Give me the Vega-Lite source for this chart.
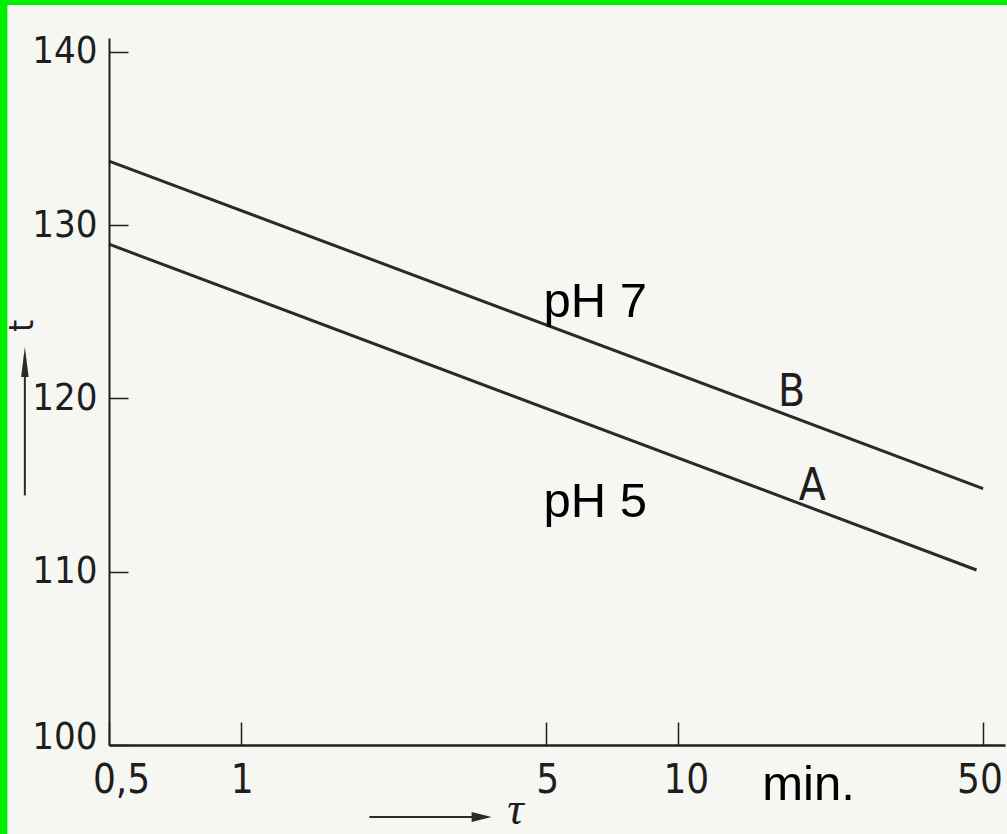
{
  "$schema": "https://vega.github.io/schema/vega-lite/v6.json",
  "width": 896,
  "height": 707,
  "autosize": {"type": "none"},
  "padding": {"left": 109, "top": 38, "right": 2, "bottom": 89},
  "background": "#00f000",
  "config": {"view": {"stroke": null}},
  "datasets": {
    "paper": [{"tau": 0.2928, "tau2": 80, "t": 142.7, "t2": 90}],
    "lines": [
      {"curve": "A", "tau": 0.5, "t": 128.9},
      {"curve": "A", "tau": 48.2, "t": 110.1},
      {"curve": "B", "tau": 0.5, "t": 133.7},
      {"curve": "B", "tau": 49.9, "t": 114.8}
    ],
    "bigLabels": [
      {"text": "pH 7", "tau": 4.93, "t": 124.7},
      {"text": "pH 5", "tau": 4.93, "t": 113.18},
      {"text": "min.", "tau": 15.6, "t": 96.83}
    ],
    "curveLabels": [
      {"text": "B", "tau": 18.2, "t": 119.57},
      {"text": "A", "tau": 20.3, "t": 114.14}
    ],
    "yTitle": [{"text": "t", "tau": 0.318, "t": 124.2}],
    "xTitle": [{"text": "τ", "tau": 4.25, "t": 96.25}],
    "arrowShafts": [
      {"tau": 0.321, "tau2": 0.321, "t": 114.4, "t2": 122.5},
      {"tau": 1.97, "tau2": 3.6, "t": 95.84, "t2": 95.84}
    ],
    "upHead": [{"tau": 0.321, "t": 122.97}],
    "rightHead": [{"tau": 3.75, "t": 95.84}]
  },
  "layer": [
    {
      "data": {"name": "paper"},
      "mark": {"type": "rect", "clip": false, "color": "#f6f7f3"},
      "encoding": {
        "x": {"field": "tau", "type": "quantitative", "scale": {"type": "log", "domain": [0.5, 56]}},
        "x2": {"field": "tau2"},
        "y": {"field": "t", "type": "quantitative", "scale": {"domain": [100, 140.8], "zero": false, "nice": false}},
        "y2": {"field": "t2"}
      }
    },
    {
      "data": {"name": "lines"},
      "mark": {"type": "line", "color": "#2a2a2a", "strokeWidth": 3},
      "encoding": {
        "x": {
          "field": "tau", "type": "quantitative",
          "scale": {"type": "log", "domain": [0.5, 56]},
          "axis": {
            "title": null, "grid": false, "zindex": 2,
            "values": [0.5, 1, 5, 10, 50],
            "labelExpr": "datum.value == 0.5 ? '0,5' : datum.label",
            "labelFlush": false,
            "domainColor": "#1e1e1e", "domainWidth": 2.5,
            "tickColor": "#1e1e1e", "tickWidth": 1.5, "tickSize": -23,
            "labelPadding": 38, "labelBaseline": "top",
            "labelFont": "DejaVu Sans Condensed, sans-serif",
            "labelFontSize": 40, "labelColor": "#1e1e1e",
            "labelOffset": {"condition": [
              {"test": "datum.value == 0.5", "value": 12},
              {"test": "datum.value == 10", "value": 8},
              {"test": "datum.value == 50", "value": -4}
            ], "value": 1}
          }
        },
        "y": {
          "field": "t", "type": "quantitative",
          "scale": {"domain": [100, 140.8], "zero": false, "nice": false},
          "axis": {
            "title": null, "grid": false, "zindex": 2,
            "values": [100, 110, 120, 130, 140],
            "domainColor": "#1e1e1e", "domainWidth": 2,
            "tickColor": "#1e1e1e", "tickWidth": 1.5, "tickSize": -19,
            "labelPadding": 31,
            "labelFont": "DejaVu Sans Condensed, sans-serif",
            "labelFontSize": 38, "labelColor": "#1e1e1e",
            "labelOffset": {"condition": {"test": "datum.value == 100", "value": -8}, "value": 0}
          }
        },
        "detail": {"field": "curve"}
      }
    },
    {
      "data": {"name": "bigLabels"},
      "mark": {"type": "text", "clip": false, "align": "left", "baseline": "alphabetic", "font": "Liberation Sans, Arial, sans-serif", "fontSize": 49, "color": "#000000"},
      "encoding": {
        "x": {"field": "tau", "type": "quantitative", "scale": {"type": "log", "domain": [0.5, 56]}},
        "y": {"field": "t", "type": "quantitative", "scale": {"domain": [100, 140.8], "zero": false, "nice": false}},
        "text": {"field": "text"}
      }
    },
    {
      "data": {"name": "curveLabels"},
      "mark": {"type": "text", "clip": false, "align": "center", "baseline": "alphabetic", "font": "DejaVu Sans Condensed, sans-serif", "fontSize": 44, "color": "#1e1e1e"},
      "encoding": {
        "x": {"field": "tau", "type": "quantitative", "scale": {"type": "log", "domain": [0.5, 56]}},
        "y": {"field": "t", "type": "quantitative", "scale": {"domain": [100, 140.8], "zero": false, "nice": false}},
        "text": {"field": "text"}
      }
    },
    {
      "data": {"name": "yTitle"},
      "mark": {"type": "text", "clip": false, "align": "center", "baseline": "middle", "angle": -90, "font": "DejaVu Sans Condensed, sans-serif", "fontSize": 34, "color": "#1e1e1e"},
      "encoding": {
        "x": {"field": "tau", "type": "quantitative", "scale": {"type": "log", "domain": [0.5, 56]}},
        "y": {"field": "t", "type": "quantitative", "scale": {"domain": [100, 140.8], "zero": false, "nice": false}},
        "text": {"field": "text"}
      }
    },
    {
      "data": {"name": "xTitle"},
      "mark": {"type": "text", "clip": false, "align": "center", "baseline": "middle", "font": "Liberation Serif, DejaVu Serif, serif", "fontSize": 46, "fontStyle": "italic", "color": "#1e1e1e"},
      "encoding": {
        "x": {"field": "tau", "type": "quantitative", "scale": {"type": "log", "domain": [0.5, 56]}},
        "y": {"field": "t", "type": "quantitative", "scale": {"domain": [100, 140.8], "zero": false, "nice": false}},
        "text": {"field": "text"}
      }
    },
    {
      "data": {"name": "arrowShafts"},
      "mark": {"type": "rule", "clip": false, "color": "#2a2a2a", "strokeWidth": 2},
      "encoding": {
        "x": {"field": "tau", "type": "quantitative", "scale": {"type": "log", "domain": [0.5, 56]}},
        "x2": {"field": "tau2"},
        "y": {"field": "t", "type": "quantitative", "scale": {"domain": [100, 140.8], "zero": false, "nice": false}},
        "y2": {"field": "t2"}
      }
    },
    {
      "data": {"name": "upHead"},
      "mark": {"type": "point", "clip": false, "filled": true, "color": "#2a2a2a", "opacity": 1, "shape": "M0,0L0.25,2L-0.25,2Z", "size": 900},
      "encoding": {
        "x": {"field": "tau", "type": "quantitative", "scale": {"type": "log", "domain": [0.5, 56]}},
        "y": {"field": "t", "type": "quantitative", "scale": {"domain": [100, 140.8], "zero": false, "nice": false}}
      }
    },
    {
      "data": {"name": "rightHead"},
      "mark": {"type": "point", "clip": false, "filled": true, "color": "#2a2a2a", "opacity": 1, "shape": "M0,0L0.5,2L-0.5,2Z", "size": 400, "angle": 90},
      "encoding": {
        "x": {"field": "tau", "type": "quantitative", "scale": {"type": "log", "domain": [0.5, 56]}},
        "y": {"field": "t", "type": "quantitative", "scale": {"domain": [100, 140.8], "zero": false, "nice": false}}
      }
    }
  ]
}
